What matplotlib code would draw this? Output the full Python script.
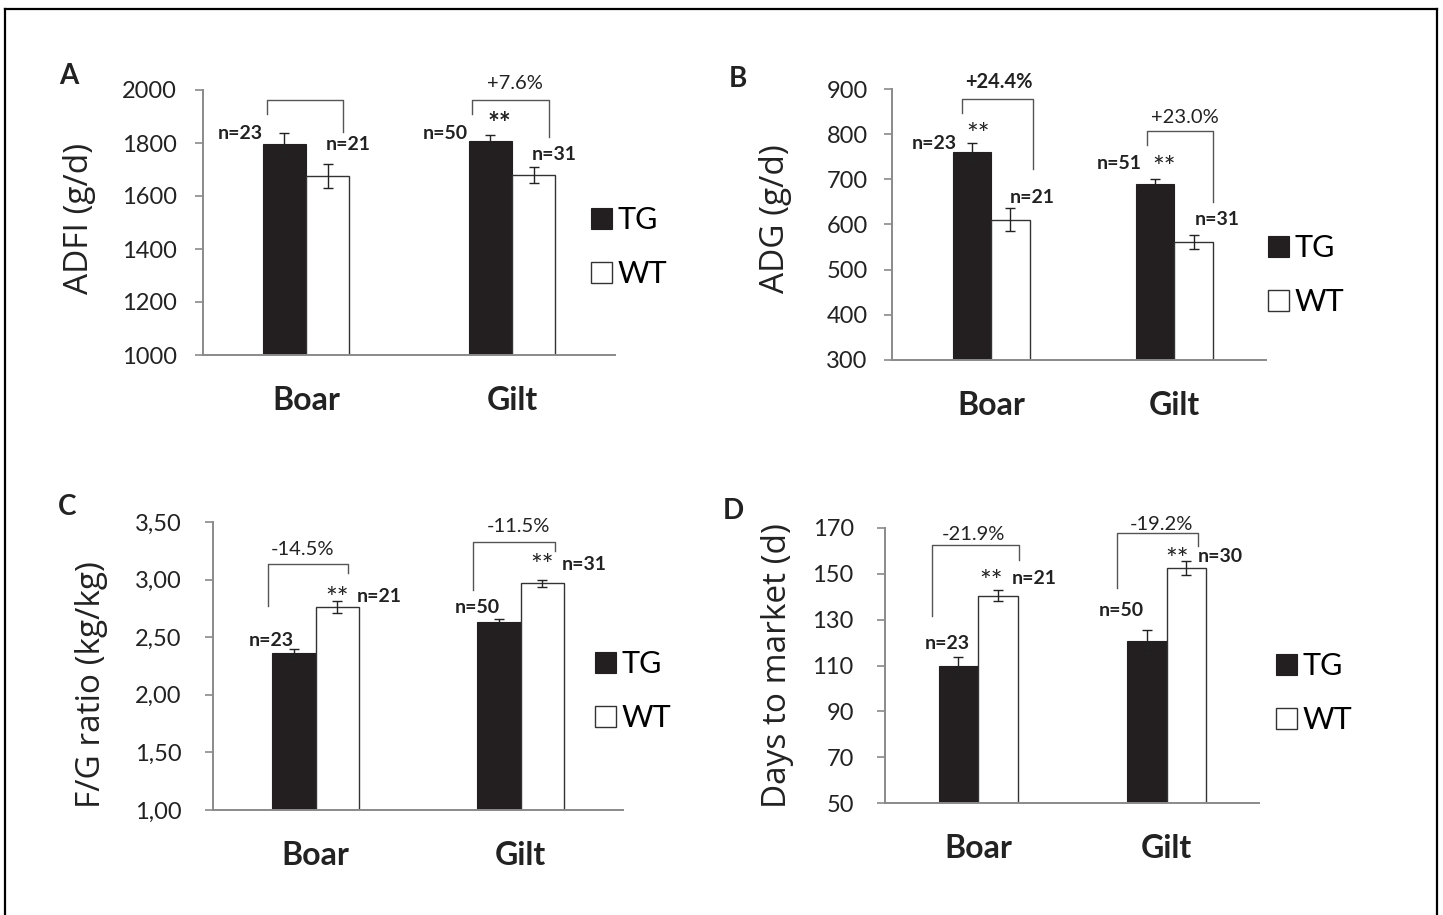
import matplotlib
matplotlib.use("Agg")
import matplotlib.pyplot as plt
from matplotlib.lines import Line2D
import numpy as np

# ---------------- data ----------------
categories = ["Boar", "Gilt"]
series_names = ["TG", "WT"]

adfi_tg = [1795, 1806]
adfi_tg_err = [44, 25]
adfi_wt = [1676, 1680]
adfi_wt_err = [46, 31]
adfi_n_tg = ["n=23", "n=50"]
adfi_n_wt = ["n=21", "n=31"]
adfi_pct = ["", "+7.6%"]
adfi_sig_tg = ["", "**"]
adfi_ticks = [1000, 1200, 1400, 1600, 1800, 2000]

adg_tg = [761, 690]
adg_tg_err = [20, 10]
adg_wt = [611, 561]
adg_wt_err = [25, 15]
adg_n_tg = ["n=23", "n=51"]
adg_n_wt = ["n=21", "n=31"]
adg_pct = ["+24.4%", "+23.0%"]
adg_sig_tg = ["**", "**"]
adg_ticks = [300, 400, 500, 600, 700, 800, 900]

fg_tg = [2.36, 2.63]
fg_tg_err = [0.04, 0.025]
fg_wt = [2.76, 2.97]
fg_wt_err = [0.05, 0.03]
fg_n_tg = ["n=23", "n=50"]
fg_n_wt = ["n=21", "n=31"]
fg_pct = ["-14.5%", "-11.5%"]
fg_sig_wt = ["**", "**"]
fg_ticks = [1.0, 1.5, 2.0, 2.5, 3.0, 3.5]
fg_ticklabels = ["1,00", "1,50", "2,00", "2,50", "3,00", "3,50"]

days_tg = [109.8, 120.6]
days_tg_err = [4, 5]
days_wt = [140.5, 152.7]
days_wt_err = [2.5, 3]
days_n_tg = ["n=23", "n=50"]
days_n_wt = ["n=21", "n=30"]
days_pct = ["-21.9%", "-19.2%"]
days_sig_wt = ["**", "**"]
days_ticks = [50, 70, 90, 110, 130, 150, 170]

# ---------------- style ----------------
W, H = 1443, 915
fig = plt.figure(figsize=(W / 100, H / 100), dpi=100)

CAL = ["Lato", "DejaVu Sans"]
SEG = ["Open Sans", "DejaVu Sans"]
GREY = "#8a8a8a"
DARK = "#231f20"
BW = 0.21


def rect(l, t, r, b):
    return [l / W, 1 - b / H, (r - l) / W, (b - t) / H]


def make_panel(pos, letter, letter_xy, ylabel, ylabel_xy, ticks, ticklabels,
               tg, tg_err, wt, wt_err, xlim, leg_xy, ypad):
    ax = fig.add_axes(rect(*pos))
    x = np.arange(len(categories))
    b1 = ax.bar(x - BW / 2, tg, BW, color=DARK, edgecolor=DARK, linewidth=0.8,
                label=series_names[0], zorder=2)
    b2 = ax.bar(x + BW / 2, wt, BW, color="white", edgecolor="#333333", linewidth=1.0,
                label=series_names[1], zorder=2)
    ax.errorbar(x - BW / 2, tg, yerr=tg_err, fmt="none", ecolor="#222222",
                elinewidth=1.0, capsize=3.6, capthick=1.0, zorder=3)
    ax.errorbar(x + BW / 2, wt, yerr=wt_err, fmt="none", ecolor="#222222",
                elinewidth=1.0, capsize=3.6, capthick=1.0, zorder=3)
    ax.set_ylim(ticks[0], ticks[-1])
    ax.set_xlim(*xlim)
    ax.set_yticks(ticks)
    ax.set_yticklabels(ticklabels, fontsize=17, family=CAL, color="#222222")
    ax.set_xticks(x)
    ax.set_xticklabels(categories, fontsize=23, family=CAL, fontweight="bold",
                       color="#222222")
    ax.tick_params(axis="x", length=0, pad=22)
    ax.tick_params(axis="y", length=6, width=1.2, color=GREY, pad=ypad)
    for s in ["top", "right"]:
        ax.spines[s].set_visible(False)
    for s in ["left", "bottom"]:
        ax.spines[s].set_color(GREY)
        ax.spines[s].set_linewidth(1.4)
    ax.patch.set_alpha(0)
    fig.text(letter_xy[0] / W, 1 - letter_xy[1] / H, letter, fontsize=20,
             fontweight="bold", family=CAL, ha="center", va="center", color="#222222")
    fig.text(ylabel_xy[0] / W, 1 - ylabel_xy[1] / H, ylabel, fontsize=24,
             family=SEG, rotation=90, ha="center", va="center", color="#222222")
    ax.legend(handles=[b1, b2], loc="upper left",
              bbox_to_anchor=(leg_xy[0] / W, 1 - leg_xy[1] / H),
              bbox_transform=fig.transFigure, frameon=False,
              prop={"family": CAL, "size": 22},
              handlelength=0.68, handleheight=0.68, handletextpad=0.2,
              labelspacing=0.85, borderpad=0, borderaxespad=0)
    return ax


def bracket(ax, xc, dl, dr, ytop, yl, yr, text, ty, tdx, bold=False):
    ax.plot([xc + dl, xc + dl, xc + dr, xc + dr], [yl, ytop, ytop, yr],
            color="#555555", lw=1.0, clip_on=False, zorder=4)
    if text:
        ax.text(xc + tdx, ty, text, fontsize=14.5, family=CAL, ha="center",
                va="center", color="#222222",
                fontweight="bold" if bold else "normal", clip_on=False)


def label(ax, xx, yy, s, size=14, weight="bold"):
    ax.text(xx, yy, s, fontsize=size, family=CAL, fontweight=weight,
            ha="center", va="center", color="#222222", clip_on=False, zorder=5)


SIG = 20

# ---------------- panel A ----------------
axA = make_panel((203, 90, 615, 355), "A", (69, 76), "ADFI (g/d)", (80, 218),
                 adfi_ticks, [str(t) for t in adfi_ticks],
                 adfi_tg, adfi_tg_err, adfi_wt, adfi_wt_err, (-0.5, 1.5), (591, 206), 13)
bracket(axA, 0, -0.187, 0.18, 1962, 1910, 1840, adfi_pct[0], 2026, 0.0)
bracket(axA, 1, -0.195, 0.178, 1962, 1910, 1823, adfi_pct[1], 2026, 0.015)
label(axA, -0.318, 1834, adfi_n_tg[0])
label(axA, 0.206, 1796, adfi_n_wt[0])
label(axA, 1 - 0.325, 1834, adfi_n_tg[1])
label(axA, 1 + 0.204, 1755, adfi_n_wt[1])
label(axA, 1 - 0.06, 1872, adfi_sig_tg[1], size=SIG)

# ---------------- panel B ----------------
axB = make_panel((892, 89, 1266, 360), "B", (738, 79), "ADG (g/d)", (776, 219),
                 adg_ticks, [str(t) for t in adg_ticks],
                 adg_tg, adg_tg_err, adg_wt, adg_wt_err, (-0.54, 1.50), (1268, 234), 11.5)
bracket(axB, 0, -0.16, 0.23, 878, 847, 723, adg_pct[0], 915, 0.044, bold=True)
bracket(axB, 1, -0.15, 0.21, 807, 776, 650, adg_pct[1], 838, 0.055)
label(axB, -0.308, 780, adg_n_tg[0])
label(axB, -0.07, 796, adg_sig_tg[0], size=SIG, weight="normal")
label(axB, 0.224, 659, adg_n_wt[0])
label(axB, 1 - 0.30, 734, adg_n_tg[1])
label(axB, 1 - 0.057, 722, adg_sig_tg[1], size=SIG, weight="normal")
label(axB, 1 + 0.235, 611, adg_n_wt[1])

# ---------------- panel C ----------------
axC = make_panel((213, 522, 623, 810), "C", (67, 507), "F/G ratio (kg/kg)", (92, 685),
                 fg_ticks, fg_ticklabels,
                 fg_tg, fg_tg_err, fg_wt, fg_wt_err, (-0.5, 1.5), (595, 650), 16.5)
bracket(axC, 0, -0.23, 0.16, 3.136, 2.77, 3.06, fg_pct[0], 3.26, -0.063)
bracket(axC, 1, -0.234, 0.166, 3.33, 2.91, 3.25, fg_pct[1], 3.46, -0.01)
label(axC, -0.215, 2.47, fg_n_tg[0])
label(axC, 0.105, 2.82, fg_sig_wt[0], size=SIG, weight="normal")
label(axC, 0.31, 2.85, fg_n_wt[0])
label(axC, 1 - 0.21, 2.76, fg_n_tg[1])
label(axC, 1 + 0.107, 3.11, fg_sig_wt[1], size=SIG, weight="normal")
label(axC, 1 + 0.312, 3.13, fg_n_wt[1])

# ---------------- panel D ----------------
axD = make_panel((885, 528, 1259, 803), "D", (733, 511), "Days to market (d)", (777, 666),
                 days_ticks, [str(t) for t in days_ticks],
                 days_tg, days_tg_err, days_wt, days_wt_err, (-0.495, 1.49), (1276, 652), 16.5)
bracket(axD, 0, -0.246, 0.216, 162.4, 131.8, 156.2, days_pct[0], 167, -0.024)
bracket(axD, 1, -0.266, 0.165, 167.8, 143.9, 162.3, days_pct[1], 171.4, -0.03)
label(axD, -0.167, 119.8, days_n_tg[0])
label(axD, 0.068, 146, days_sig_wt[0], size=SIG, weight="normal")
label(axD, 0.295, 148, days_n_wt[0])
label(axD, 1 - 0.24, 134.2, days_n_tg[1])
label(axD, 1 + 0.056, 155.6, days_sig_wt[1], size=SIG, weight="normal")
label(axD, 1 + 0.283, 157.7, days_n_wt[1])

# ---------------- outer frame ----------------
for xs, ys in [([5, 5], [9, 915]), ([1437, 1437], [9, 915]), ([5, 1437], [9, 9])]:
    fig.add_artist(Line2D([v / W for v in xs], [1 - v / H for v in ys],
                          transform=fig.transFigure, color="black", lw=1.6))

fig.savefig("out.png", dpi=100)
